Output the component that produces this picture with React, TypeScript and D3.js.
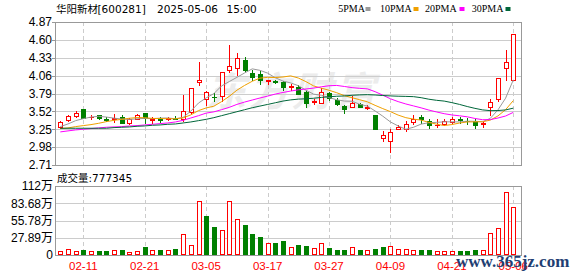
import React from 'react';
import * as d3 from 'd3';

const dates = [
  '02-06', '02-07', '02-10', '02-11', '02-12', '02-13', '02-14', '02-17', '02-18', '02-19',
  '02-20', '02-21', '02-24', '02-25', '02-26', '02-27', '02-28', '03-03', '03-04', '03-05',
  '03-06', '03-07', '03-10', '03-11', '03-12', '03-13', '03-14', '03-17', '03-18', '03-19',
  '03-20', '03-21', '03-24', '03-25', '03-26', '03-27', '03-28', '03-31', '04-01', '04-02',
  '04-03', '04-07', '04-08', '04-09', '04-10', '04-11', '04-14', '04-15', '04-16', '04-17',
  '04-18', '04-21', '04-22', '04-23', '04-24', '04-25', '04-28', '04-29', '04-30', '05-06',
];

const opens = [
  3.29, 3.39, 3.45, 3.55, 3.43, 3.46, 3.40, 3.41, 3.44, 3.35,
  3.41, 3.49, 3.39, 3.40, 3.41, 3.42, 3.40, 3.51, 3.96, 3.71,
  3.74, 3.75, 4.15, 4.18, 4.30, 4.10, 4.08, 3.98, 3.98, 3.96,
  3.89, 3.89, 3.82, 3.66, 3.64, 3.80, 3.69, 3.60, 3.58, 3.63,
  3.57, 3.47, 3.12, 3.07, 3.26, 3.25, 3.36, 3.43, 3.37, 3.31,
  3.33, 3.36, 3.40, 3.38, 3.38, 3.33, 3.59, 3.70, 4.18, 4.00,
];
const highs = [
  3.37, 3.47, 3.52, 3.55, 3.47, 3.47, 3.44, 3.48, 3.47, 3.42,
  3.48, 3.49, 3.43, 3.44, 3.44, 3.45, 3.76, 3.87, 4.26, 3.83,
  3.80, 4.12, 4.52, 4.40, 4.34, 4.15, 4.13, 3.99, 4.00, 3.98,
  3.93, 3.92, 3.84, 3.70, 3.87, 3.82, 3.72, 3.61, 3.75, 3.65,
  3.62, 3.47, 3.23, 3.25, 3.32, 3.38, 3.47, 3.47, 3.40, 3.40,
  3.41, 3.44, 3.44, 3.42, 3.41, 3.38, 3.70, 4.03, 4.44, 4.69,
];
const lows = [
  3.27, 3.37, 3.44, 3.42, 3.40, 3.40, 3.37, 3.36, 3.34, 3.33,
  3.40, 3.34, 3.34, 3.36, 3.39, 3.40, 3.38, 3.50, 3.92, 3.61,
  3.67, 3.68, 4.12, 4.07, 4.12, 3.99, 3.94, 3.93, 3.95, 3.85,
  3.84, 3.78, 3.59, 3.63, 3.64, 3.69, 3.62, 3.50, 3.58, 3.58,
  3.55, 3.26, 3.07, 2.91, 3.26, 3.23, 3.33, 3.35, 3.27, 3.29,
  3.32, 3.35, 3.35, 3.33, 3.27, 3.29, 3.46, 3.67, 3.99, 4.00,
];
const closes = [
  3.36, 3.45, 3.50, 3.42, 3.44, 3.42, 3.39, 3.42, 3.35, 3.41,
  3.47, 3.42, 3.40, 3.39, 3.42, 3.41, 3.53, 3.87, 4.00, 3.81,
  3.73, 4.11, 4.20, 4.32, 4.14, 4.04, 4.00, 3.99, 3.97, 3.89,
  3.90, 3.79, 3.65, 3.67, 3.81, 3.72, 3.63, 3.55, 3.65, 3.59,
  3.58, 3.26, 3.16, 3.21, 3.29, 3.33, 3.41, 3.40, 3.31, 3.32,
  3.37, 3.41, 3.39, 3.37, 3.31, 3.34, 3.66, 4.03, 4.26, 4.69,
];
// volume in 万股
const volumes = [
  7.0, 9.7, 7.0, 7.5, 7.0, 5.9, 5.9, 8.1, 7.5, 5.4,
  7.0, 12.4, 8.6, 7.5, 8.6, 9.2, 34.5, 16.7, 87.8, 64.1,
  45.8, 40.9, 87.8, 58.7, 47.9, 33.4, 28.6, 19.9, 18.9, 22.1,
  12.9, 15.6, 15.4, 11.3, 19.9, 11.9, 8.1, 8.1, 12.4, 8.1,
  8.1, 9.7, 12.9, 14.5, 9.2, 9.2, 8.1, 8.1, 8.1, 6.5,
  6.5, 6.5, 6.5, 7.0, 8.1, 8.1, 35.0, 43.1, 102.4, 77.7,
];
// R = rising volume bar (red), G = falling (green)
const volDirections = [
  'R', 'R', 'R', 'G', 'R', 'G', 'G', 'R', 'G', 'R',
  'R', 'G', 'R', 'G', 'R', 'G', 'R', 'R', 'R', 'G',
  'G', 'R', 'R', 'R', 'G', 'G', 'G', 'R', 'G', 'G',
  'R', 'G', 'G', 'R', 'R', 'G', 'G', 'G', 'R', 'G',
  'R', 'G', 'G', 'R', 'R', 'R', 'R', 'G', 'G', 'R',
  'R', 'R', 'G', 'G', 'G', 'R', 'R', 'R', 'R', 'R',
];

// moving-average values at the start of the window (need history before 02-06)
const ma5Head = [3.29, 3.33, 3.38, 3.41];
const ma10Head = [3.26, 3.27, 3.29, 3.305, 3.32, 3.34, 3.365, 3.385, 3.40];
const ma20Head = [3.21, 3.225, 3.24, 3.25, 3.26, 3.27, 3.28, 3.285, 3.29, 3.30,
  3.305, 3.315, 3.325, 3.335, 3.345, 3.36, 3.385, 3.42, 3.455];
const ma30Head = [3.265, 3.265, 3.265, 3.265, 3.265, 3.265, 3.265, 3.275, 3.28, 3.285,
  3.295, 3.30, 3.31, 3.315, 3.325, 3.33, 3.345, 3.36, 3.38, 3.40,
  3.425, 3.455, 3.485, 3.515, 3.545, 3.575, 3.60, 3.625, 3.65];

const maPeriods = [5, 10, 20, 30];
const maNames = ['5PMA', '10PMA', '20PMA', '30PMA'];
const maColors = ['#9a9a9a', '#f0a000', '#ff00ff', '#00663a'];
const maHeads = [ma5Head, ma10Head, ma20Head, ma30Head];

const priceTicks = [4.87, 4.6, 4.33, 4.06, 3.79, 3.52, 3.25, 2.98, 2.71];
const priceTickLabels = ['4.87', '4.60', '4.33', '4.06', '3.79', '3.52', '3.25', '2.98', '2.71'];
const volTicks = [112, 83.68, 55.78, 27.89, 0];
const volTickLabels = ['112万', '83.68万', '55.78万', '27.89万', '0'];
const xTickDates = ['02-11', '02-21', '03-05', '03-17', '03-27', '04-09', '04-21', '05-06'];

const stockName = '华阳新材';
const stockCode = '[600281]';
const stockDate = '2025-05-06';
const stockTime = '15:00';
const volTitle = '成交量:777345';

const RED = '#ff0000';
const GREEN = '#008000';
const GRID = '#cccccc';
const BORDER = '#999999';

const LEFT = 55;
const RIGHT = 522;
const P_TOP = 22;
const P_BOT = 165;
const V_TOP = 186;
const V_BOT = 255;

function movingAverage(period: number, head: number[]) {
  return closes.map((_, i) => {
    if (i < period - 1) return head[i];
    return d3.mean(closes.slice(i - period + 1, i + 1)) as number;
  });
}

export default function App() {
  const x = d3.scalePoint<string>().domain(dates).range([60.3, 513.3]);
  const y = d3.scaleLinear().domain([2.71, 4.87]).range([P_BOT, P_TOP]);
  const yv = d3.scaleLinear().domain([0, 112]).range([V_BOT, V_TOP]);

  const mas = maPeriods.map((p, k) => movingAverage(p, maHeads[k]));
  const line = d3
    .line<number>()
    .x((_, i) => x(dates[i]) as number)
    .y((d) => y(d));

  const px = (v: number) => Math.round(v) + 0.5;

  return (
    <svg
      width={578}
      height={276}
      style={{ position: 'absolute', left: 0, top: 0, background: '#fff' }}
      fontFamily="'Liberation Sans', Arial, sans-serif"
    >
      <rect x={0} y={0} width={578} height={276} fill="#fff" />
      {/* watermark */}
      <text
        x={292}
        y={106}
        textAnchor="middle"
        fontSize={40}
        fontWeight="bold"
        fontStyle="italic"
        fill="#ececec"
        letterSpacing={3}
        fontFamily="'Noto Sans CJK SC', sans-serif"
      >
        东方财富
      </text>

      {/* title */}
      <text x={56} y={13} fontSize={10.5} fill="#000" fontFamily="'Noto Sans CJK SC', sans-serif">
        {stockName}
      </text>
      <text x={97.5} y={13} fontSize={10.5} fill="#000" fontFamily="'DejaVu Sans', sans-serif">
        {stockCode}
      </text>
      <text x={157} y={13} fontSize={10.5} fill="#000" fontFamily="'DejaVu Sans', sans-serif">
        {stockDate}
      </text>
      <text x={226.5} y={13} fontSize={10.5} fill="#000" fontFamily="'DejaVu Sans', sans-serif">
        {stockTime}
      </text>

      {/* legend */}
      {maNames.map((n, k) => {
        const lx = [338.3, 380, 425, 471.7][k];
        const sx = [365.5, 413.5, 459.5, 505.5][k];
        return (
          <g key={n}>
            <text x={lx} y={12} fontSize={10} fill="#000" fontFamily="'Liberation Serif', serif">
              {n}
            </text>
            <rect x={sx} y={7} width={5} height={4} fill={maColors[k]} />
          </g>
        );
      })}

      {/* price panel grid */}
      {priceTicks.slice(1, -1).map((t) => (
        <line key={t} x1={LEFT} x2={RIGHT} y1={px(y(t))} y2={px(y(t))} stroke={GRID} />
      ))}
      {xTickDates.map((d) => (
        <g key={d}>
          <line
            x1={px(x(d) as number)}
            x2={px(x(d) as number)}
            y1={P_TOP}
            y2={P_BOT}
            stroke={GRID}
            strokeDasharray="4,3"
          />
          <line
            x1={px(x(d) as number)}
            x2={px(x(d) as number)}
            y1={V_TOP}
            y2={V_BOT}
            stroke={GRID}
            strokeDasharray="4,3"
          />
        </g>
      ))}
      {volTicks.slice(1, -1).map((t) => (
        <line key={t} x1={LEFT} x2={RIGHT} y1={px(yv(t))} y2={px(yv(t))} stroke={GRID} />
      ))}

      {/* candles */}
      {dates.map((d, i) => {
        const cx = Math.round(x(d) as number);
        const o = opens[i];
        const c = closes[i];
        const up = c >= o;
        const col = up ? RED : GREEN;
        const top = Math.round(y(Math.max(o, c)));
        const bot = Math.round(y(Math.min(o, c)));
        const hi = Math.round(y(highs[i]));
        const lo = Math.round(y(lows[i]));
        if (bot - top < 1) {
          return (
            <g key={d} shapeRendering="crispEdges">
              <line x1={cx + 0.5} x2={cx + 0.5} y1={hi} y2={lo + 1} stroke={col} />
              <line x1={cx - 2} x2={cx + 3} y1={top + 0.5} y2={top + 0.5} stroke={col} />
            </g>
          );
        }
        if (up) {
          return (
            <g key={d} shapeRendering="crispEdges">
              <line x1={cx + 0.5} x2={cx + 0.5} y1={hi} y2={top} stroke={col} />
              <line x1={cx + 0.5} x2={cx + 0.5} y1={bot + 1} y2={lo + 1} stroke={col} />
              <rect x={cx - 1.5} y={top + 0.5} width={4} height={bot - top} fill="#fff" stroke={col} />
            </g>
          );
        }
        return (
          <g key={d} shapeRendering="crispEdges">
            <line x1={cx + 0.5} x2={cx + 0.5} y1={hi} y2={lo + 1} stroke={col} />
            <rect x={cx - 2} y={top} width={5} height={bot - top + 1} fill={col} />
          </g>
        );
      })}

      {/* moving averages */}
      {mas.map((m, k) => (
        <path key={k} d={line(m) as string} fill="none" stroke={maColors[k]} strokeWidth={1} />
      ))}

      {/* volume bars */}
      {dates.map((d, i) => {
        const cx = Math.round(x(d) as number);
        const vy = Math.round(yv(volumes[i]));
        const up = volDirections[i] === 'R';
        return up ? (
          <rect
            key={d}
            x={cx - 1.5}
            y={vy + 0.5}
            width={4}
            height={V_BOT - vy - 1}
            fill="#fff"
            stroke={RED}
            shapeRendering="crispEdges"
          />
        ) : (
          <rect
            key={d}
            x={cx - 2}
            y={vy}
            width={5}
            height={V_BOT - vy}
            fill={GREEN}
            shapeRendering="crispEdges"
          />
        );
      })}

      {/* borders */}
      <rect x={LEFT + 0.5} y={P_TOP + 0.5} width={RIGHT - LEFT - 1} height={P_BOT - P_TOP} fill="none" stroke={BORDER} />
      <rect x={LEFT + 0.5} y={V_TOP + 0.5} width={RIGHT - LEFT - 1} height={V_BOT - V_TOP} fill="none" stroke={BORDER} />

      {/* price axis labels */}
      {priceTicks.map((t, k) => (
        <g key={t}>
          <line x1={LEFT - 3} x2={LEFT} y1={px(y(t))} y2={px(y(t))} stroke={BORDER} />
          <text x={52} y={y(t)} dy="0.36em" textAnchor="end" fontSize={12} fill="#000">
            {priceTickLabels[k]}
          </text>
        </g>
      ))}

      {/* volume title */}
      <text x={57} y={182} fontSize={10.5} fill="#000" fontFamily="'DejaVu Sans', 'Noto Sans CJK SC', sans-serif">
        {volTitle}
      </text>

      {/* volume axis labels */}
      {volTicks.map((t, k) => (
        <text
          key={t}
          x={53}
          y={yv(t)}
          dy="0.36em"
          textAnchor="end"
          fontSize={12}
          fill="#000"
          fontFamily="'Liberation Sans', 'Noto Sans CJK SC', sans-serif"
        >
          {volTickLabels[k]}
        </text>
      ))}

      {/* x axis labels */}
      {xTickDates.map((d) => (
        <text key={d} x={x(d) as number} y={270} textAnchor="middle" fontSize={11.5} fill={RED}>
          {d}
        </text>
      ))}

      {/* site watermark */}
      <text
        x={456}
        y={267}
        fontSize={17}
        fontWeight="bold"
        fill="#1f3f73"
        fontFamily="'Liberation Serif', serif"
      >
        www.365jz.com
      </text>
    </svg>
  );
}
